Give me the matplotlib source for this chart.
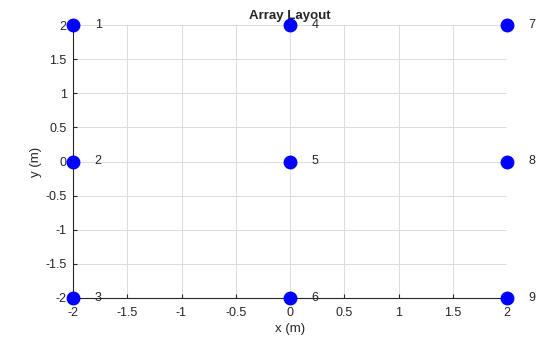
import matplotlib
matplotlib.use("Agg")
import matplotlib.pyplot as plt

plt.rcParams['font.family'] = ['Liberation Sans', 'DejaVu Sans']

# element positions (m)
xs = [-2, -2, -2, 0, 0, 0, 2, 2, 2]
ys = [2, 0, -2, 2, 0, -2, 2, 0, -2]
labels = ['1', '2', '3', '4', '5', '6', '7', '8', '9']
ticks = [-2, -1.5, -1, -0.5, 0, 0.5, 1, 1.5, 2]
tick_labels = ['-2', '-1.5', '-1', '-0.5', '0', '0.5', '1', '1.5', '2']

fig = plt.figure(figsize=(5.6, 3.37), dpi=100)
ax = fig.add_axes([73/560, 1 - 298/337, (507-73)/560, (298-25)/337])

ax.plot(xs, ys, 'o', color=(0, 0, 1), markersize=9, clip_on=False, zorder=5)
for x, y, s in zip(xs, ys, labels):
    ax.text(x + 0.2, y, s, fontsize=9, va='center', ha='left', color='#262626')

ax.set_xlim(-2, 2)
ax.set_ylim(-2, 2)
ax.set_xticks(ticks)
ax.set_xticklabels(tick_labels)
ax.set_yticks(ticks)
ax.set_yticklabels(tick_labels)
ax.grid(True, color='#dcdcdc', linewidth=0.7)
ax.set_axisbelow(True)

for side in ['top', 'right']:
    ax.spines[side].set_visible(False)
for side in ['left', 'bottom']:
    ax.spines[side].set_color('#262626')
    ax.spines[side].set_linewidth(0.8)
ax.tick_params(direction='in', length=3, width=0.8, colors='#262626', labelsize=9)
ax.tick_params(axis='x', pad=6.5)
ax.tick_params(axis='y', pad=4.5)

ax.set_xlabel('x (m)', fontsize=9.5, color='#262626', labelpad=3)
ax.set_ylabel('y (m)', fontsize=9.5, color='#262626', labelpad=2.5)
ax.set_title('Array Layout', fontsize=9.5, fontweight='bold', color='#262626', pad=4)

fig.savefig('out.png', dpi=100)
